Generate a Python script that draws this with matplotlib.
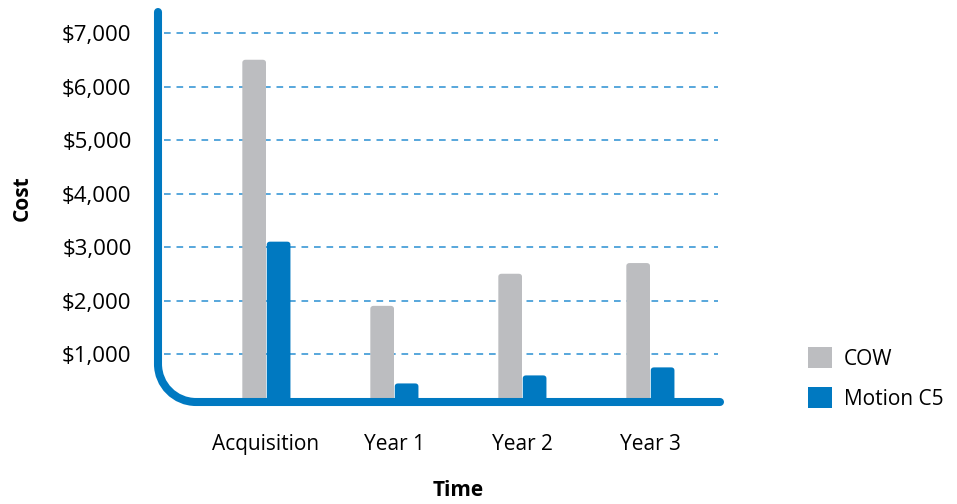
import matplotlib
matplotlib.use("Agg")
import matplotlib.pyplot as plt
from matplotlib.patches import FancyBboxPatch, Patch
from matplotlib.path import Path
from matplotlib.patches import PathPatch
from matplotlib.transforms import Affine2D

# data
categories = ["Acquisition", "Year 1", "Year 2", "Year 3"]
cow = [6500, 1900, 2500, 2700]
motion_c5 = [3100, 450, 600, 750]
y_ticks = [1000, 2000, 3000, 4000, 5000, 6000, 7000]
y_labels = ["$1,000", "$2,000", "$3,000", "$4,000", "$5,000", "$6,000", "$7,000"]

GRAY = "#bcbdc0"
BLUE = "#0079c1"
GRID = "#3b98d6"
W, H = 957, 504

plt.rcParams['font.family'] = ['Open Sans', 'DejaVu Sans']
fig = plt.figure(figsize=(W / 100, H / 100), dpi=100)
# axes placed in pixel terms: left 158, right 722, bottom 402, top 10
ax = fig.add_axes([158 / W, (H - 402) / H, (722 - 158) / W, (402 - 10) / H])

x = list(range(len(categories)))
bw = 0.185
b1 = ax.bar([i - bw / 2 for i in x], cow, width=bw, color=GRAY, zorder=3)
b2 = ax.bar([i + bw / 2 + 0.006 for i in x], motion_c5, width=bw, color=BLUE, zorder=3)

# give bars slightly rounded tops
for rect in list(b1) + list(b2):
    rx, ry = rect.get_x(), rect.get_y()
    rw, rh = rect.get_width(), rect.get_height()
    fb = FancyBboxPatch((rx, ry), rw, rh,
                        boxstyle="round,pad=0,rounding_size=0.025",
                        mutation_aspect=2300, facecolor=rect.get_facecolor(),
                        edgecolor="none", zorder=3)
    rect.set_visible(False)
    ax.add_patch(fb)

ax.set_xlim(-0.84375, 3.5625)
ax.set_ylim(103, 7430)

for yv in y_ticks:
    ax.axhline(yv, xmin=0.01, xmax=0.993, color=GRID, lw=1.2,
               dashes=(4, 3.5), zorder=1)

ax.set_yticks(y_ticks)
ax.set_yticklabels(y_labels, fontsize=16)
ax.set_xticks(x)
ax.set_xticklabels(categories, fontsize=15)
ax.tick_params(axis="y", length=0, pad=19)
ax.tick_params(axis="x", length=0, pad=23)
for s in ax.spines.values():
    s.set_visible(False)

# rounded L-shaped axis line drawn in pixel coordinates
r = 38
k = 0.5523
x0, ytop, ybot, xr = 158, H - 12, H - 402, 720
verts = [(x0, ytop), (x0, ybot + r),
         (x0, ybot + r * (1 - k)), (x0 + r * (1 - k), ybot), (x0 + r, ybot),
         (xr, ybot)]
codes = [Path.MOVETO, Path.LINETO, Path.CURVE4, Path.CURVE4, Path.CURVE4,
         Path.LINETO]
px = Affine2D().scale(1 / W, 1 / H) + fig.transFigure
fig.patches.append(PathPatch(Path(verts, codes), transform=px, fill=False,
                             edgecolor=BLUE, lw=5.8, capstyle="round",
                             joinstyle="round", zorder=5))

fig.text(22 / W, 1 - 198 / H, "Cost", rotation=90, fontsize=15,
         fontweight="bold", ha="center", va="center")
fig.text(458 / W, 1 - 491 / H, "Time", fontsize=15, fontweight="bold",
         ha="center", va="center")

handles = [Patch(facecolor=GRAY, edgecolor="none", label="COW"),
           Patch(facecolor=BLUE, edgecolor="none", label="Motion C5")]
fig.legend(handles=handles, loc="upper left", bbox_to_anchor=(800 / W, 1 - 339 / H),
           frameon=False, fontsize=15, handlelength=1.15, handleheight=1.15,
           handletextpad=0.55, labelspacing=0.85, borderaxespad=0)

fig.savefig("out.png", dpi=100)
